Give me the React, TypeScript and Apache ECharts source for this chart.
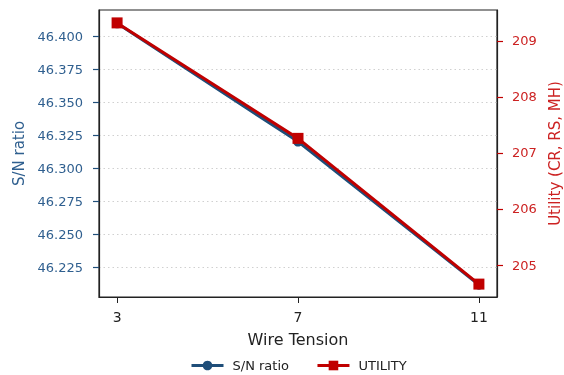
import React, { useEffect, useRef } from "react";
import * as echarts from "echarts";

const tensions = [3, 7, 11];
const snRatio = [46.4096, 46.32, 46.2116];
const utility = [209.32, 207.26, 204.66];
const xTicks = [3, 7, 11];
const leftTicks = [46.225, 46.25, 46.275, 46.3, 46.325, 46.35, 46.375, 46.4];
const rightTicks = [205, 206, 207, 208, 209];

const BLUE = "#1f4e79";
const BLUE_TXT = "#2f5f8f";
const RED = "#c00000";
const RED_TXT = "#cc2222";
const FONT = "DejaVu Sans";

export default function App() {
  const ref = useRef<HTMLDivElement>(null);
  useEffect(() => {
    if (!ref.current) return;
    const chart = echarts.init(ref.current, undefined, { renderer: "svg" });
    chart.setOption({
      animation: false,
      textStyle: { fontFamily: FONT },
      grid: {
        left: 99,
        right: 67,
        top: 10,
        bottom: 78,
        show: true,
        borderColor: "#222",
        borderWidth: 1.2,
        containLabel: false,
        outerBoundsMode: "none",
      },
      legend: {
        data: ["S/N ratio", "UTILITY"],
        top: 359,
        left: 190,
        padding: 0,
        itemWidth: 32,
        itemHeight: 12,
        itemGap: 27,
        lineStyle: { width: 3 },
        textStyle: { fontFamily: FONT, fontSize: 13, color: "#222", padding: [0, 0, 0, 4] },
      },
      xAxis: {
        type: "value",
        min: 2.6,
        max: 11.4,
        name: "Wire Tension",
        nameLocation: "middle",
        nameGap: 34,
        nameTextStyle: { fontFamily: FONT, fontSize: 16, color: "#222" },
        axisLine: { show: true, lineStyle: { color: "#222", width: 1.2 } },
        axisTick: { show: true, length: 6, customValues: xTicks, lineStyle: { color: "#222" } },
        axisLabel: {
          customValues: xTicks,
          margin: 13,
          fontFamily: FONT,
          fontSize: 14,
          color: "#222",
        },
        splitLine: { show: false },
      },
      yAxis: [
        {
          type: "value",
          position: "left",
          min: 46.2023,
          max: 46.4197,
          name: "S/N ratio",
          nameLocation: "middle",
          nameGap: 66,
          nameTextStyle: { fontFamily: FONT, fontSize: 15, color: BLUE_TXT },
          axisLine: { show: true, lineStyle: { color: "#222", width: 1.2 } },
          axisTick: { show: true, length: 6, customValues: leftTicks, lineStyle: { color: BLUE, width: 1.2 } },
          axisLabel: {
            customValues: leftTicks,
            margin: 16,
            fontFamily: FONT,
            fontSize: 13,
            color: BLUE_TXT,
            formatter: (v: number) => v.toFixed(3),
          },
          splitLine: { show: true, lineStyle: { color: "#d0d0d0", type: [1.5, 3], width: 1 } },
        },
        {
          type: "value",
          position: "right",
          min: 204.43,
          max: 209.55,
          name: "Utility (CR, RS, MH)",
          nameLocation: "middle",
          nameGap: 47,
          nameRotate: 90,
          nameTextStyle: { fontFamily: FONT, fontSize: 15, color: RED_TXT },
          axisLine: { show: true, lineStyle: { color: "#222", width: 1.2 } },
          axisTick: { show: true, length: 6, customValues: rightTicks, lineStyle: { color: RED, width: 1.2 } },
          axisLabel: {
            customValues: rightTicks,
            margin: 15,
            fontFamily: FONT,
            fontSize: 13,
            color: RED_TXT,
          },
          splitLine: { show: false },
        },
      ],
      series: [
        {
          name: "S/N ratio",
          type: "line",
          yAxisIndex: 0,
          data: tensions.map((t, i) => [t, snRatio[i]]),
          symbol: "circle",
          symbolSize: 10,
          itemStyle: { color: BLUE },
          lineStyle: { color: BLUE, width: 3 },
          z: 3,
        },
        {
          name: "UTILITY",
          type: "line",
          yAxisIndex: 1,
          data: tensions.map((t, i) => [t, utility[i]]),
          symbol: "rect",
          symbolSize: 11,
          itemStyle: { color: RED },
          lineStyle: { color: RED, width: 3 },
          z: 4,
        },
      ],
    });
    return () => chart.dispose();
  }, []);
  return (
    <div
      ref={ref}
      style={{ position: "fixed", left: 0, top: 0, width: 564, height: 375 }}
    />
  );
}
